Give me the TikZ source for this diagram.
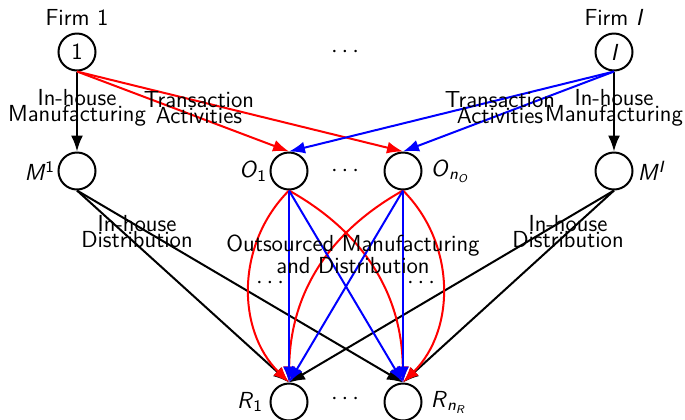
\documentclass[tikz,border=0pt]{standalone}
\usepackage{fontspec}
\usetikzlibrary{arrows.meta}
\newcommand\tightlines{\lineskiplimit=-100pt\relax}
\begin{document}
\begin{tikzpicture}[x=0.5pt,y=-0.5pt,
  font=\sffamily\fontsize{11.6}{13}\selectfont,
  st/.style={circle, draw, line width=1pt, minimum size=18.5pt, inner sep=0pt},
  lab/.style={align=center, inner sep=0pt, font=\sffamily\fontsize{11.6}{8}\selectfont\tightlines},
  arr/.style={-{Latex[length=8pt,width=6pt]}, line width=1pt},
  lname/.style={anchor=east, inner sep=1pt},
  rname/.style={anchor=west, inner sep=4pt}]
\useasboundingbox (0,0) rectangle (685,419);
% firms
\node[st] (f1) at (77,52) {1};
\node[st] (fI) at (614,52) {\itshape I};
\node (t1) at (77,17) {Firm 1};
\node (tI) at (614,17) {Firm \textit{I}};
\node (d1) at (345,52) {$\cdots$};
% middle layer
\node[st] (m1) at (77,171) {};
\node[lname] (m1l) at (m1.west) {\textit{M}\textsuperscript{1}};
\node[st] (o1) at (289,171) {};
\node[lname] (o1l) at (o1.west) {\textit{O}\textsubscript{1}};
\node (d2) at (345,171) {$\cdots$};
\node[st] (on) at (403,171) {};
\node[rname] (onl) at (on.east) {\textit{O}\textsubscript{\textit{n}\textsubscript{\textit{O}}}};
\node[st] (mI) at (614,171) {};
\node[rname, inner sep=2pt] (mIl) at (mI.east) {\textit{M}\textsuperscript{\textit{I}}};
% retailers
\node[st] (r1) at (289,402) {};
\node[lname, inner sep=3pt] (r1l) at (r1.west) {\textit{R}\textsubscript{1}};
\node (d3) at (345,399) {$\cdots$};
\node[st] (rn) at (403,402) {};
\node[rname] (rnl) at (rn.east) {\textit{R}\textsubscript{\textit{n}\textsubscript{\textit{R}}}};
% edges top
\draw[arr] (f1) -- (m1);
\draw[arr] (fI) -- (mI);
\draw[arr, red] (f1.south) -- (o1.north);
\draw[arr, red] (f1.south) -- (on.north);
\draw[arr, blue] (fI.south) -- (o1.north);
\draw[arr, blue] (fI.south) -- (on.north);
% in-house distribution
\draw[arr] (m1.south) -- (r1.north);
\draw[arr] (m1.south) -- (rn.north);
\draw[arr] (mI.south) -- (r1.north);
\draw[arr] (mI.south) -- (rn.north);
% outsourced
\draw[arr, red] (o1.south) to[bend right=45] (r1.north);
\draw[arr, red] (on.south) to[bend left=45] (rn.north);
\draw[arr, red] (o1.south) to[bend left=30] (rn.north);
\draw[arr, red] (on.south) to[bend right=30] (r1.north);
\draw[arr, blue] (o1.south) -- (r1.north);
\draw[arr, blue] (o1.south) -- (rn.north);
\draw[arr, blue] (on.south) -- (rn.north);
\draw[arr, blue] (on.south) -- (r1.north);
% labels
\node[lab] (l1) at (77,108) {In-house\\Manufacturing};
\node[lab] (l2) at (199,108) {Transaction\\Activities};
\node[lab] (l3) at (500,108) {Transaction\\Activities};
\node[lab] (l4) at (614,108) {In-house\\Manufacturing};
\node[lab] (l5) at (137,232) {In-house\\Distribution};
\node[lab] (l6) at (568,232) {In-house\\Distribution};
\node[lab, font=\sffamily\fontsize{11.6}{11}\selectfont\tightlines] (l7) at (353,254) {Outsourced Manufacturing\\and Distribution};
\node (d4) at (270,283) {$\cdots$};
\node (d5) at (421,283) {$\cdots$};
\end{tikzpicture}
\end{document}
